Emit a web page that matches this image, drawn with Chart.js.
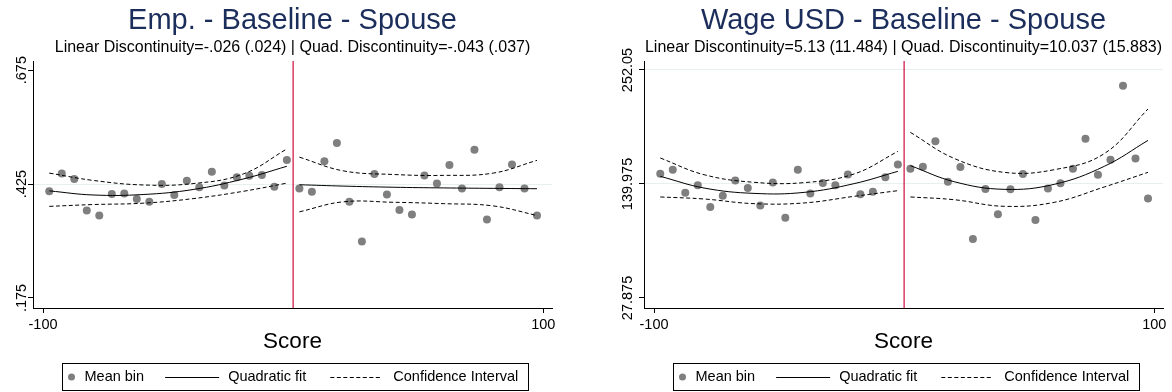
<!DOCTYPE html>
<html>
<head>
<meta charset="utf-8">
<title>Regression discontinuity – Baseline – Spouse</title>
<script src="https://cdn.jsdelivr.net/npm/chart.js@4.4.1/dist/chart.umd.min.js"></script>
<style>
  html, body { margin: 0; padding: 0; background: #fff; overflow: hidden; }
  #wrap { position: relative; width: 1172px; height: 392px; }
  .panel { position: absolute; top: 0; width: 586px; height: 392px; }
</style>
</head>
<body>
<div id="wrap">
  <div class="panel" style="left:0"><canvas id="empChart" width="586" height="392"></canvas></div>
  <div class="panel" style="left:586px"><canvas id="wageChart" width="586" height="392"></canvas></div>
</div>
<script>
// ---- bins of the running variable (score), width 5 ----
const BIN_SCORES = [
  -97.5, -92.5, -87.5, -82.5, -77.5, -72.5, -67.5, -62.5, -57.5, -52.5,
  -47.5, -42.5, -37.5, -32.5, -27.5, -22.5, -17.5, -12.5, -7.5, -2.5,
  2.5, 7.5, 12.5, 17.5, 22.5, 27.5, 32.5, 37.5, 42.5, 47.5,
  52.5, 57.5, 62.5, 67.5, 72.5, 77.5, 82.5, 87.5, 92.5, 97.5
];
// scores at which the fitted curve and its band are sampled
const FIT_SCORES_LEFT = [-97.5, -80, -60, -40, -20, -2.5];
const FIT_SCORES_RIGHT = [2.5, 20, 40, 60, 80, 97.5];

const X_TICKS = [-100, 100];
const X_TICK_LABELS = ['-100', '100'];
const CUTOFF = 0;

// ---- Employment ----
const EMP_MEANS = [
  0.409, 0.448, 0.436, 0.367, 0.356, 0.403, 0.404, 0.392, 0.386, 0.425,
  0.401, 0.432, 0.418, 0.452, 0.422, 0.440, 0.443, 0.445, 0.419, 0.478,
  0.415, 0.408, 0.475, 0.515, 0.386, 0.299, 0.447, 0.402, 0.368, 0.358,
  0.444, 0.426, 0.467, 0.415, 0.500, 0.347, 0.418, 0.468, 0.415, 0.356
];
const EMP_FIT_LEFT = [0.410, 0.401, 0.402, 0.413, 0.436, 0.464];
const EMP_UPPER_LEFT = [0.449, 0.433, 0.423, 0.426, 0.447, 0.502];
const EMP_LOWER_LEFT = [0.376, 0.380, 0.383, 0.393, 0.409, 0.427];
const EMP_FIT_RIGHT = [0.4235, 0.4205, 0.418, 0.4165, 0.4155, 0.4147];
const EMP_UPPER_RIGHT = [0.484, 0.454, 0.446, 0.444, 0.449, 0.477];
const EMP_LOWER_RIGHT = [0.364, 0.386, 0.385, 0.382, 0.377, 0.356];
const EMP_Y_TICKS = [0.175, 0.425, 0.675];
const EMP_Y_TICK_LABELS = ['.175', '.425', '.675'];
const EMP_Y_GRID = [0.425];

// ---- Wage (USD) ----
const WAGE_MEANS = [
  150.1, 154.0, 131.4, 138.6, 117.4, 128.5, 143.5, 136.0, 118.9, 141.3,
  106.8, 154.0, 130.7, 141.0, 138.6, 149.4, 129.8, 132.4, 146.5, 159.0,
  155.0, 157.0, 181.9, 142.2, 156.7, 85.9, 135.1, 110.1, 134.7, 149.8,
  104.6, 135.6, 140.6, 155.0, 184.5, 149.1, 163.9, 236.6, 164.9, 125.8
];
const WAGE_FIT_LEFT = [147.5, 136.0, 130.7, 131.7, 140.3, 152.4];
const WAGE_UPPER_LEFT = [165.5, 149.1, 141.6, 141.3, 149.8, 172.0];
const WAGE_LOWER_LEFT = [127.2, 125.2, 120.6, 121.3, 127.8, 133.4];
const WAGE_FIT_RIGHT = [158.0, 142.2, 134.7, 139.6, 157.3, 182.8];
const WAGE_UPPER_RIGHT = [190.7, 165.1, 151.4, 154.0, 169.8, 213.7];
const WAGE_LOWER_RIGHT = [127.2, 124.5, 118.0, 121.9, 137.0, 151.4];
const WAGE_Y_TICKS = [27.875, 139.975, 252.05];
const WAGE_Y_TICK_LABELS = ['27.875', '139.975', '252.05'];
const WAGE_Y_GRID = [139.975, 252.05];

const LEGEND_LABELS = ['Mean bin', 'Quadratic fit', 'Confidence Interval'];

// ---- styling ----
const FONT = "'Liberation Sans', Arial, Helvetica, sans-serif";
const TITLE_COLOR = '#1b2d5b';
const MARKER_COLOR = '#7f7f7f';
const CUTOFF_COLOR = '#cf1f4c';
const GRID_COLOR = '#e7eff1';
const DASH = [4, 2.5];
const TICK_FONT_SIZE = 14.5;

const zip = (xs, ys) => xs.map((x, i) => ({ x: x, y: ys[i] }));

function widestText(labels, size) {
  const ctx = document.createElement('canvas').getContext('2d');
  ctx.font = `normal ${size}px ${FONT}`;
  return Math.max(...labels.map(l => ctx.measureText(l).width));
}

// Titles above the plot region and the boxed legend below it
const panelText = {
  id: 'panelText',
  afterDraw(chart, args, opts) {
    const ctx = chart.ctx;
    const area = chart.chartArea;
    const cx = (area.left + area.right) / 2;
    ctx.save();
    ctx.textAlign = 'center';
    ctx.textBaseline = 'middle';
    ctx.fillStyle = TITLE_COLOR;
    ctx.font = `normal 29px ${FONT}`;
    ctx.fillText(opts.title, cx, 21);
    ctx.fillStyle = '#000';
    ctx.font = `normal 16px ${FONT}`;
    ctx.fillText(opts.subtitle, cx, 48);

    // legend
    ctx.font = `normal ${TICK_FONT_SIZE}px ${FONT}`;
    const w = LEGEND_LABELS.map(t => ctx.measureText(t).width);
    const boxW = 9 + 13 + w[0] + 21 + 54 + 9 + w[1] + 24 + 52 + 11 + w[2] + 10;
    const left = Math.round(cx + 2 - boxW / 2) + 0.5;
    const top = 363.5, boxH = 27;
    const my = top + boxH / 2;
    ctx.strokeStyle = '#000';
    ctx.lineWidth = 1;
    ctx.setLineDash([]);
    ctx.strokeRect(left, top, Math.round(boxW), boxH);

    let x = left + 9;
    ctx.fillStyle = MARKER_COLOR;
    ctx.beginPath();
    ctx.arc(x, my, 3.5, 0, Math.PI * 2);
    ctx.fill();
    x += 13;
    ctx.fillStyle = '#000';
    ctx.textAlign = 'left';
    ctx.fillText(LEGEND_LABELS[0], x, my);
    x += w[0] + 21;
    ctx.beginPath();
    ctx.moveTo(x, Math.round(my) + 0.5);
    ctx.lineTo(x + 54, Math.round(my) + 0.5);
    ctx.stroke();
    x += 54 + 9;
    ctx.fillText(LEGEND_LABELS[1], x, my);
    x += w[1] + 24;
    ctx.setLineDash(DASH);
    ctx.beginPath();
    ctx.moveTo(x, Math.round(my) + 0.5);
    ctx.lineTo(x + 52, Math.round(my) + 0.5);
    ctx.stroke();
    ctx.setLineDash([]);
    x += 52 + 11;
    ctx.fillText(LEGEND_LABELS[2], x, my);
    ctx.restore();
  }
};

function buildPanel(canvasId, p) {
  const lineDs = (label, xs, ys, dashed) => ({
    label: label,
    data: zip(xs, ys),
    showLine: true,
    borderColor: '#000',
    borderWidth: 1,
    borderDash: dashed ? DASH : [],
    pointRadius: 0,
    tension: 0.4,
    fill: false
  });

  const widest = widestText(p.yTickLabels, TICK_FONT_SIZE);
  const yPadding = p.axisWidth - 5 - p.labelCenter - widest / 2;

  return new Chart(document.getElementById(canvasId), {
    type: 'scatter',
    data: {
      datasets: [
        {
          label: 'Cutoff',
          data: [{ x: CUTOFF, y: p.yMin }, { x: CUTOFF, y: p.yMax }],
          showLine: true,
          borderColor: CUTOFF_COLOR,
          borderWidth: 1.3,
          pointRadius: 0
        },
        lineDs('Confidence Interval', FIT_SCORES_LEFT, p.upperL, true),
        lineDs('Confidence Interval', FIT_SCORES_LEFT, p.lowerL, true),
        lineDs('Confidence Interval', FIT_SCORES_RIGHT, p.upperR, true),
        lineDs('Confidence Interval', FIT_SCORES_RIGHT, p.lowerR, true),
        lineDs('Quadratic fit', FIT_SCORES_LEFT, p.fitL, false),
        lineDs('Quadratic fit', FIT_SCORES_RIGHT, p.fitR, false),
        {
          label: 'Mean bin',
          data: zip(BIN_SCORES, p.means),
          backgroundColor: MARKER_COLOR,
          borderWidth: 0,
          pointRadius: 4
        }
      ]
    },
    options: {
      responsive: false,
      animation: false,
      devicePixelRatio: 1,
      events: [],
      layout: { padding: { left: 0, right: p.rightPad, top: 61, bottom: 0 } },
      plugins: {
        legend: { display: false },
        tooltip: { enabled: false },
        panelText: { title: p.title, subtitle: p.subtitle }
      },
      scales: {
        x: {
          type: 'linear',
          min: -104,
          max: 103.5,
          afterBuildTicks: s => { s.ticks = X_TICKS.map(v => ({ value: v })); },
          afterFit: s => { s.height = 84; },
          ticks: {
            autoSkip: false,
            maxRotation: 0,
            padding: 3,
            color: '#000',
            font: { family: FONT, size: TICK_FONT_SIZE },
            callback: v => X_TICK_LABELS[X_TICKS.indexOf(v)]
          },
          grid: { drawOnChartArea: false, drawTicks: true, tickLength: 5, tickColor: '#000' },
          border: { display: true, color: '#000', width: 1 },
          title: {
            display: true,
            text: 'Score',
            color: '#000',
            font: { family: FONT, size: 22.5 },
            padding: { top: 0, bottom: 37 }
          }
        },
        y: {
          type: 'linear',
          min: p.yMin,
          max: p.yMax,
          afterBuildTicks: s => { s.ticks = p.yTicks.map(v => ({ value: v })); },
          afterFit: s => { s.width = p.axisWidth; },
          ticks: {
            autoSkip: false,
            minRotation: 90,
            maxRotation: 90,
            crossAlign: 'center',
            padding: yPadding,
            color: '#000',
            font: { family: FONT, size: TICK_FONT_SIZE },
            callback: v => p.yTickLabels[p.yTicks.indexOf(v)]
          },
          grid: {
            drawTicks: true,
            tickLength: 5,
            tickColor: '#000',
            lineWidth: 1,
            color: c => (c.tick && p.yGrid.includes(c.tick.value)) ? GRID_COLOR : 'rgba(0,0,0,0)'
          },
          border: { display: true, color: '#000', width: 1 }
        }
      }
    },
    plugins: [panelText]
  });
}

buildPanel('empChart', {
  title: 'Emp. - Baseline - Spouse',
  subtitle: 'Linear Discontinuity=-.026 (.024) | Quad. Discontinuity=-.043 (.037)',
  means: EMP_MEANS,
  fitL: EMP_FIT_LEFT, upperL: EMP_UPPER_LEFT, lowerL: EMP_LOWER_LEFT,
  fitR: EMP_FIT_RIGHT, upperR: EMP_UPPER_RIGHT, lowerR: EMP_LOWER_RIGHT,
  yMin: 0.153, yMax: 0.695,
  yTicks: EMP_Y_TICKS, yTickLabels: EMP_Y_TICK_LABELS, yGrid: EMP_Y_GRID,
  axisWidth: 33, rightPad: 34, labelCenter: 22
});

buildPanel('wageChart', {
  title: 'Wage USD - Baseline - Spouse',
  subtitle: 'Linear Discontinuity=5.13 (11.484) | Quad. Discontinuity=10.037 (15.883)',
  means: WAGE_MEANS,
  fitL: WAGE_FIT_LEFT, upperL: WAGE_UPPER_LEFT, lowerL: WAGE_LOWER_LEFT,
  fitR: WAGE_FIT_RIGHT, upperR: WAGE_UPPER_RIGHT, lowerR: WAGE_LOWER_RIGHT,
  yMin: 18.0, yMax: 260.9,
  yTicks: WAGE_Y_TICKS, yTickLabels: WAGE_Y_TICK_LABELS, yGrid: WAGE_Y_GRID,
  axisWidth: 58, rightPad: 9, labelCenter: 41.5
});
</script>
</body>
</html>
